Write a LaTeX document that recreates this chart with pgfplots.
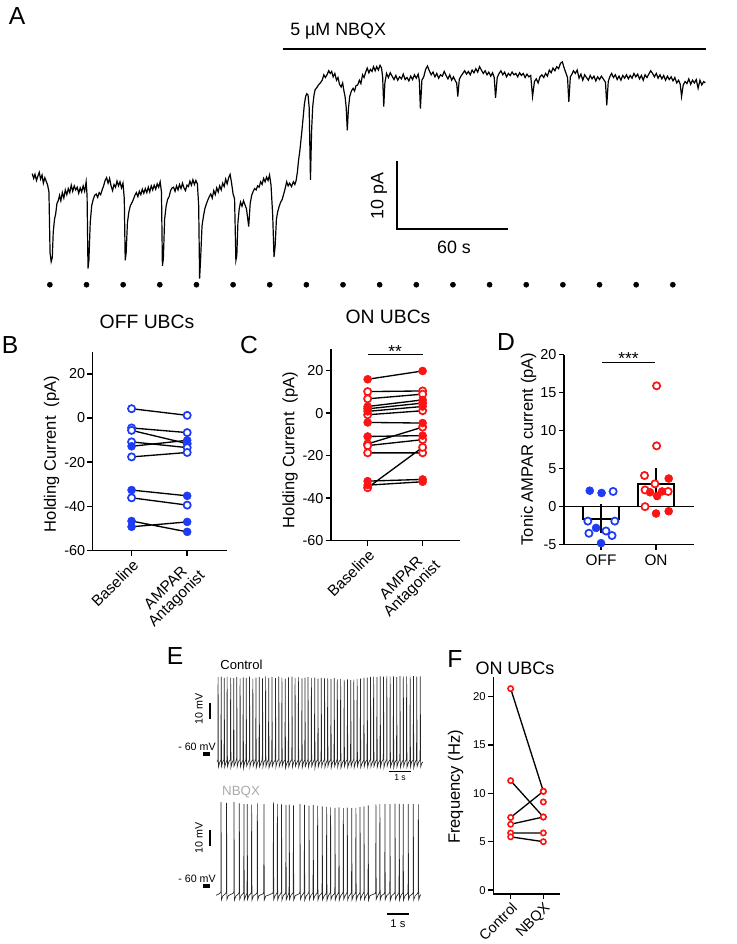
\documentclass[border=0pt]{standalone}
\usepackage{pgfplots}
\pgfplotsset{compat=1.18}
\usepackage{fontspec}
\setmainfont{Liberation Sans}
\definecolor{ubcblue}{RGB}{30,60,245}
\definecolor{ubcred}{RGB}{250,20,20}
\newcommand\fs[1]{\fontsize{#1}{#1}\selectfont}

\pgfplotsset{
  panel/.style={scale only axis, clip=false, anchor=south west,
    axis x line=bottom, axis y line=left,
    axis line style={line width=1.1pt,-},
    tick style={line width=1.1pt,black}, tick align=outside, major tick length=4pt,
    /pgf/number format/assume math mode=true,
    yticklabel style={font=\fs{10.8}, inner sep=1.5pt},
    xticklabel style={font=\fs{11.5}}},
  trace/.style={hide axis, scale only axis, clip=false, anchor=south west},
  pairs/.style={black, line width=1pt, unbounded coords=jump},
  openmk/.style={mark=*, mark size=2.7pt, mark options={draw=#1, fill=white, line width=1.3pt, solid}},
  fillmk/.style={mark=*, mark size=3pt, mark options={draw=#1, fill=#1, line width=0.4pt, solid}},
}

\begin{document}
\begin{tikzpicture}
\path[use as bounding box] (0,0) rectangle (552.75pt,708pt);

% ---------------- A: holding current trace
\begin{axis}[trace, at={(24.15pt,485.3pt)}, width=505pt, height=193pt,
  xmin=0, xmax=362, ymin=-34, ymax=4]
\addplot[black, line width=0.9pt] coordinates {
(0,-15.8) (0.8,-16.5) (1.5,-15.9) (2.3,-16.8) (3,-16.2) (3.8,-15.6) (4.5,-16.6) (5.3,-16.0) (6,-17.2) (6.8,-16.4)
(7.5,-16.9) (8.3,-17.5) (9.0,-18.5) (9.6,-27.5) (10.2,-28.8) (10.8,-28.2) (11.3,-24.5) (12,-22.5) (12.6,-21.8) (13.3,-20.2)
(14,-19.8) (14.7,-19.0) (15.4,-19.8) (16.2,-18.6) (17,-19.4) (17.8,-18.2) (18.6,-18.9) (19.4,-18.0) (20.2,-18.6) (21,-17.5)
(21.8,-18.4) (22.6,-17.6) (23.4,-18.2) (24.2,-17.8) (25,-18.7) (25.8,-17.9) (26.6,-18.5) (27.4,-17.6) (28.2,-18.4) (29,-17.0)
(29.5,-19.0) (30,-29.8) (30.5,-28.5) (31.2,-23.0) (32,-20.5) (32.8,-19.6) (33.6,-19.0) (34.4,-18.8) (35.2,-19.3) (36,-18.6)
(36.8,-18.9) (37.6,-18.2) (38.4,-17.6) (39.2,-16.8) (40,-16.4) (40.8,-17.2) (41.6,-16.5) (42.4,-17.6) (43.2,-18.3) (44,-17.4)
(44.8,-17.8) (45.6,-16.9) (46.4,-17.6) (47.2,-17.0) (48,-17.9) (48.8,-17.2) (49.5,-19.5) (50,-28.6) (50.5,-27.5) (51.2,-23.0)
(52,-21.4) (52.8,-20.5) (53.6,-20.1) (54.4,-19.6) (55.2,-19.0) (56,-18.6) (56.8,-19.2) (57.6,-18.4) (58.4,-18.9) (59.2,-18.1)
(60,-18.7) (60.8,-18.0) (61.6,-18.6) (62.4,-17.8) (63.2,-18.5) (64,-17.6) (64.8,-18.2) (65.6,-17.5) (66.4,-18.1) (67.2,-17.3)
(68,-17.8) (68.8,-17.0) (69.5,-18.5) (70,-29.4) (70.5,-28.4) (71.2,-22.5) (72,-20.6) (72.8,-19.6) (73.6,-19.2) (74.4,-18.3)
(75.2,-17.9) (76,-17.8) (76.8,-18.4) (77.6,-17.6) (78.4,-18.2) (79.2,-17.4) (80,-18.0) (80.8,-17.2) (81.6,-17.9) (82.4,-18.3)
(83.2,-17.5) (84,-17.7) (84.8,-16.9) (85.6,-17.5) (86.4,-16.7) (87.2,-17.4) (88,-16.8) (88.8,-17.3) (89.5,-20.5) (90,-31.3)
(90.6,-28.0) (91.3,-23.5) (92,-22.2) (92.8,-21.0) (93.6,-20.3) (94.4,-19.7) (95.2,-19.2) (96,-18.8) (96.8,-19.4) (97.6,-18.3)
(98.4,-18.9) (99.2,-17.9) (100,-18.5) (100.8,-17.6) (101.6,-18.2) (102.4,-17.2) (103.2,-17.7) (104,-16.6) (104.8,-17.3) (105.6,-16.4)
(106.4,-15.9) (107.2,-17.2) (108,-18.8) (108.8,-19.5) (109.5,-28.6) (110,-27.9) (110.6,-23.0) (111.3,-21.0) (112,-20.0) (112.8,-20.6)
(113.6,-19.8) (114.4,-20.4) (115.2,-21.0) (116.4,-23.6) (117.2,-20.2) (118,-19.0) (118.8,-18.4) (119.6,-18.0) (120.4,-18.2) (121.2,-17.6)
(122,-17.8) (122.8,-17.0) (123.6,-17.4) (124.4,-16.5) (125.2,-17.0) (126,-16.3) (126.8,-16.8) (127.6,-16.0) (128.4,-17.5) (129.3,-22.0)
(130,-28.1) (130.6,-26.5) (131.3,-22.5) (132,-21.4) (132.8,-20.6) (133.6,-20.0) (134.4,-19.6) (135.2,-18.8) (136,-18.0) (136.8,-17.0)
(137.6,-17.6) (138.4,-17.2) (139.4,-17.7) (140.4,-17.0) (141.2,-17.4) (141.9,-16.8) (142.6,-15.5) (143.2,-13.8) (143.9,-12.4) (144.5,-10.8)
(145.1,-9.2) (145.7,-7.4) (146.3,-5.6) (147,-4.4) (147.6,-4.0) (148.3,-4.2) (148.9,-6.0) (149.6,-16.7) (150.2,-9.5) (150.8,-5.9)
(151.5,-4.2) (152.1,-3.4) (153,-3.1) (153.9,-2.7) (154.9,-2.4) (155.9,-2.0) (156.8,-1.2) (157.6,-1.6) (158.5,-1.2) (159.4,-0.6)
(160.2,-1.0) (161,-0.7) (161.8,-1.5) (162.7,-1.0) (163.6,-2.0) (164.4,-1.6) (165.2,-2.6) (166.1,-3.0) (166.9,-2.4) (167.6,-3.6)
(168.2,-4.4) (168.8,-6.0) (169.4,-9.4) (170,-6.2) (170.7,-4.4) (171.6,-3.6) (172.5,-3.2) (173.3,-3.6) (174.1,-2.8) (175,-2.7)
(175.9,-2.0) (176.7,-2.5) (177.6,-1.2) (178.4,-1.6) (179.3,-0.8) (180.1,-0.2) (181,-0.9) (181.8,-0.4) (182.7,-0.7) (183.5,0.0)
(184.4,-0.6) (185.2,0.0) (186.1,-0.5) (187,0.2) (187.8,-0.2) (188.4,-1.5) (189,-5.9) (189.6,-2.4) (190.5,-1.0) (191.5,-1.6)
(192.5,-0.9) (193.5,-1.4) (194.5,-1.9) (195.5,-1.3) (196.5,-2.0) (197.5,-1.5) (198.5,-1.8) (199.5,-1.1) (200.5,-1.9) (201.5,-1.6)
(202.5,-2.1) (203.5,-1.4) (204.5,-1.9) (205.5,-1.2) (206.5,-1.7) (207.5,-1.1) (208.1,-2.0) (208.7,-6.2) (209.5,-2.0) (210.5,-1.5)
(211.5,-0.4) (212.5,0.1) (213.5,-0.6) (214.5,-1.2) (215.5,-0.8) (216.5,-1.5) (217.5,-1.0) (218.5,-1.7) (219.5,-1.2) (220.5,-1.4)
(221.5,-0.7) (222.5,-1.3) (223.5,-1.8) (224.5,-1.2) (225.5,-2.0) (226.5,-1.5) (227.5,-2.1) (228.2,-2.4) (228.8,-4.4) (229.6,-1.9)
(230.5,-1.4) (231.5,-1.0) (232.5,-0.6) (233.5,-1.1) (234.5,-0.7) (235.5,-1.2) (236.5,-0.5) (237.5,-0.9) (238.5,-0.3) (239.5,-0.8)
(240.5,0.0) (241.5,-0.5) (242.5,-1.0) (243.5,-0.6) (244.5,-1.2) (245.5,-0.8) (246.5,-1.4) (247.5,-0.9) (248.4,-1.6) (249.1,-4.6)
(250,-1.6) (251,-1.0) (252,-0.6) (253,-1.2) (254,-0.8) (255,-1.5) (256,-1.0) (257,-1.3) (258,-0.8) (259,-1.2)
(260,-1.0) (261,-1.5) (262,-0.9) (263,-1.3) (264,-1.0) (265,-1.6) (266,-1.1) (267,-1.5) (268,-1.3) (269,-4.4)
(270,-2.2) (271,-1.8) (272,-2.4) (273,-1.5) (274,-1.2) (275,-1.6) (276,-1.0) (277,-1.4) (278,-0.5) (279,-0.9)
(280,-0.2) (281,-0.6) (282,0.0) (283,-0.3) (284,0.5) (285,0.7) (286,-0.2) (287,-1.0) (287.8,-1.6) (288.5,-5.2)
(289.3,-1.5) (290,-1.2) (291,-0.6) (292,-1.0) (293,-0.5) (294,-1.7) (295,-1.1) (296,-2.0) (297,-1.2) (298,-1.6)
(299,-2.0) (300,-1.3) (301,-1.8) (302,-1.4) (303,-2.1) (304,-1.5) (305,-1.9) (306,-1.4) (307,-1.8) (308.2,-2.3)
(308.9,-5.7) (309.7,-2.2) (310.5,-1.5) (311.5,-1.0) (312.5,-1.6) (313.5,-1.2) (314.5,-1.9) (315.5,-1.4) (316.5,-2.0) (317.5,-1.3)
(318.5,-1.7) (319.5,-1.2) (320.5,-1.8) (321.5,-1.3) (322.5,-1.7) (323.5,-1.0) (324.5,-1.5) (325.5,-1.1) (326.5,-1.8) (327.5,-1.3)
(328.5,-2.0) (329.5,-1.2) (330.5,-1.6) (331.5,-1.1) (332.5,-0.6) (333.5,-1.0) (334.5,-1.5) (335.5,-1.0) (336.5,-1.7) (337.5,-1.2)
(338.5,-1.8) (339.5,-1.3) (340.5,-2.0) (341.5,-1.4) (342.5,-1.9) (343.5,-1.5) (344.5,-2.1) (345.5,-1.6) (346.5,-2.4) (347.5,-2.0)
(348.4,-2.6) (349.1,-4.4) (350,-2.7) (351,-2.2) (352,-2.5) (353,-1.8) (354,-2.6) (355,-2.0) (356,-2.4) (357,-1.9)
(358,-3.2) (359,-2.0) (360,-2.7) (361,-2.2) (361.8,-2.4)
};
% stimulus times
\addplot[only marks, mark=*, mark size=1.9pt, black] coordinates {
(9.5,-32.2) (29.2,-32.2) (48.9,-32.2) (68.6,-32.2) (88.3,-32.2) (108,-32.2) (127.7,-32.2) (147.4,-32.2) (167.1,-32.2)
(186.8,-32.2) (206.5,-32.2) (226.2,-32.2) (245.9,-32.2) (265.6,-32.2) (285.3,-32.2) (305,-32.2) (324.7,-32.2) (344.4,-32.2)
};
\draw[line width=2pt] (axis cs:134.8,2.6) -- (axis cs:362,2.6);
\node[anchor=base west, inner sep=0pt, font=\fs{13.4}] at (axis cs:138.6,4.6) {5 µM NBQX};
\draw[line width=1.6pt] (axis cs:196,-14) -- (axis cs:196,-24) -- (axis cs:256,-24);
\node[rotate=90, font=\fs{13.4}] at (axis cs:186.4,-19.1) {10 pA};
\node[anchor=base, inner sep=0pt, font=\fs{13.4}] at (axis cs:226.8,-27.6) {60 s};
\end{axis}

% ---------------- B: OFF UBCs
\begin{axis}[panel, at={(69.5pt,295pt)}, width=100.5pt, height=149.25pt,
  xmin=0.3, xmax=2.71, ymin=-60, ymax=30, ytick={-60,-40,-20,0,20},
  xtick={1,2}, xticklabels={Baseline,{AMPAR\\Antagonist}},
  xticklabel style={rotate=45, anchor=north east, align=center, inner sep=1pt}]
\addplot[pairs, openmk=ubcblue] coordinates {
(1,4.2) (2,1.2) (1,nan) (1,-4.5) (2,-6.6) (1,nan) (1,-5.6) (2,-11.6) (1,nan)
(1,-10.8) (2,-13.4) (1,nan) (1,-17.6) (2,-15.6) (1,nan) (1,-36.1) (2,-39.4)
};
\addplot[pairs, fillmk=ubcblue] coordinates {
(1,-12.8) (2,-10.1) (1,nan) (1,-32.6) (2,-35.2) (1,nan) (1,-46.6) (2,-51.5) (1,nan) (1,-49.2) (2,-47.0)
};
\end{axis}

% ---------------- C: ON UBCs
\begin{axis}[panel, at={(248.25pt,302.5pt)}, width=96.75pt, height=143.55pt,
  xmin=0.333, xmax=2.68, ymin=-60, ymax=30, ytick={-60,-40,-20,0,20},
  xtick={1,2}, xticklabels={Baseline,{AMPAR\\Antagonist}},
  xticklabel style={rotate=45, anchor=north east, align=center, inner sep=1pt}]
\addplot[pairs, openmk=ubcred] coordinates {
(1,10.1) (2,10.4) (1,nan) (1,6.7) (2,8.9) (1,nan) (1,2.0) (2,4.7) (1,nan) (1,-0.8) (2,1.1) (1,nan)
(1,-14.5) (2,-6.6) (1,nan) (1,-15.3) (2,-12.5) (1,nan) (1,-18.7) (2,-18.7) (1,nan) (1,-35.1) (2,-16.1)
};
\addplot[pairs, fillmk=ubcred] coordinates {
(1,15.9) (2,19.8) (1,nan) (1,3.1) (2,6.2) (1,nan) (1,0.8) (2,3.1) (1,nan) (1,-4.4) (2,-4.7) (1,nan)
(1,-11.0) (2,-10.6) (1,nan) (1,-32.0) (2,-31.2) (1,nan) (1,-33.9) (2,-32.3)
};
\draw[line width=1pt] (axis cs:1,27.6) -- (axis cs:2,27.6);
\node[anchor=base, inner sep=0pt, font=\fs{13}] at (axis cs:1.5,26.3) {**};
\end{axis}

% ---------------- D: tonic AMPAR current
\begin{axis}[panel, at={(423pt,299.5pt)}, width=97.5pt, height=142.5pt,
  xmin=0.327, xmax=2.69, ymin=-5, ymax=20, ytick={-5,0,5,10,15,20},
  xtick={1,2}, xticklabels={OFF,ON}]
\addplot[ybar, bar width=0.65, fill=white, draw=black, line width=1.2pt] coordinates {(1,-1.6) (2,2.95)};
\addplot[black, line width=1.2pt] coordinates {(0.327,0) (2.69,0)};
\addplot[only marks, openmk=ubcblue] coordinates {
(1.22,2.0) (0.76,-1.9) (1.25,-1.9) (0.78,-3.5) (1.09,-3.2) (1.2,-3.8)
};
\addplot[only marks, fillmk=ubcblue] coordinates {
(0.795,2.1) (1.01,1.8) (0.91,-2.8) (1.0,-4.8)
};
\addplot[only marks, openmk=ubcred] coordinates {
(2.01,15.9) (2.01,8.0) (1.79,4.1) (1.98,3.0) (1.8,2.2) (2.22,2.0) (1.8,0.0)
};
\addplot[only marks, fillmk=ubcred] coordinates {
(2.23,3.7) (1.89,1.9) (2.02,1.4) (2.11,2.0) (2.0,-0.9) (2.23,-0.6)
};
\addplot[draw=none, mark=none, error bars/.cd, y dir=both, y explicit,
  error bar style={line width=1.2pt, black},
  error mark options={line width=1.2pt, black, mark size=6.2pt}] coordinates {
(1,-1.6) +- (0,0.8)
(2,3.0) +- (0,1.0)
};
\draw[line width=1pt] (axis cs:1.02,19) -- (axis cs:1.98,19);
\node[anchor=base, inner sep=0pt, font=\fs{13}] at (axis cs:1.5,18.7) {***};
\end{axis}

% ---------------- E: current clamp, control
\begin{axis}[trace, at={(162.75pt,129.3pt)}, width=155.1pt, height=75.6pt,
  xmin=0, xmax=9.4, ymin=-71, ymax=-8]
\addplot[black!85, line width=0.5pt] coordinates {
(0,-65.2) (0.04,-63.6) (0.05,-12.0) (0.065,-68.0) (0.12,-65.4)
(0.18,-63.8) (0.19,-11.6) (0.205,-67.6) (0.26,-65.0)
(0.32,-63.4) (0.33,-12.4) (0.345,-68.3) (0.40,-65.6)
(0.45,-63.9) (0.46,-11.8) (0.475,-67.8) (0.54,-64.8)
(0.61,-63.5) (0.62,-12.2) (0.635,-68.4) (0.69,-65.3)
(0.75,-63.7) (0.76,-12.6) (0.775,-67.5) (0.83,-65.7)
(0.89,-63.2) (0.90,-11.9) (0.915,-68.1) (0.97,-64.9)
(1.04,-63.6) (1.05,-12.8) (1.065,-67.9) (1.12,-65.5)
(1.18,-63.9) (1.19,-12.1) (1.205,-68.6) (1.26,-65.1)
(1.32,-63.3) (1.33,-12.5) (1.345,-67.7) (1.40,-65.8)
(1.47,-63.6) (1.48,-11.7) (1.495,-68.2) (1.55,-65.0)
(1.62,-63.8) (1.63,-12.9) (1.645,-67.6) (1.70,-65.4)
(1.76,-63.4) (1.77,-12.3) (1.785,-68.5) (1.85,-65.2)
(1.91,-63.7) (1.92,-12.0) (1.935,-67.9) (2.00,-65.6)
(2.06,-63.5) (2.07,-12.7) (2.085,-68.1) (2.14,-64.8)
(2.20,-63.9) (2.21,-11.5) (2.225,-67.8) (2.28,-65.3)
(2.34,-63.3) (2.35,-12.4) (2.365,-68.4) (2.43,-65.7)
(2.49,-63.6) (2.50,-11.8) (2.515,-67.7) (2.58,-65.1)
(2.65,-63.8) (2.66,-12.6) (2.675,-68.2) (2.73,-64.9)
(2.80,-63.4) (2.81,-11.6) (2.825,-68.0) (2.88,-65.5)
(2.94,-63.7) (2.95,-12.2) (2.965,-67.5) (3.02,-65.2)
(3.09,-63.5) (3.10,-12.9) (3.115,-68.6) (3.17,-65.8)
(3.24,-63.9) (3.25,-12.1) (3.265,-67.9) (3.33,-65.0)
(3.40,-63.3) (3.41,-11.7) (3.425,-68.3) (3.48,-65.4)
(3.54,-63.6) (3.55,-12.5) (3.565,-67.6) (3.62,-65.6)
(3.69,-63.8) (3.70,-12.0) (3.715,-68.1) (3.78,-64.9)
(3.85,-63.4) (3.86,-12.8) (3.875,-68.4) (3.93,-65.3)
(3.99,-63.7) (4.00,-12.3) (4.015,-67.8) (4.07,-65.7)
(4.13,-63.5) (4.14,-11.9) (4.155,-68.2) (4.21,-65.1)
(4.28,-63.9) (4.29,-12.6) (4.305,-67.7) (4.36,-65.5)
(4.43,-63.3) (4.44,-12.2) (4.455,-68.5) (4.51,-64.8)
(4.58,-63.6) (4.59,-12.9) (4.605,-67.9) (4.66,-65.4)
(4.73,-63.8) (4.74,-12.4) (4.755,-68.0) (4.81,-65.2)
(4.88,-63.4) (4.89,-12.7) (4.905,-68.3) (4.96,-65.6)
(5.02,-63.7) (5.03,-12.8) (5.045,-67.6) (5.10,-65.0)
(5.17,-63.5) (5.18,-13.1) (5.195,-68.4) (5.25,-65.3)
(5.32,-63.9) (5.33,-12.6) (5.345,-67.8) (5.40,-65.7)
(5.46,-63.3) (5.47,-13.3) (5.485,-68.1) (5.54,-64.9)
(5.61,-63.6) (5.62,-13.0) (5.635,-68.6) (5.70,-65.5)
(5.77,-63.8) (5.78,-13.6) (5.795,-67.7) (5.85,-65.1)
(5.92,-63.4) (5.93,-13.4) (5.945,-68.2) (6.00,-65.6)
(6.07,-63.7) (6.08,-13.8) (6.095,-67.9) (6.15,-65.2)
(6.21,-63.5) (6.22,-13.5) (6.235,-68.5) (6.29,-65.4)
(6.36,-63.9) (6.37,-13.2) (6.385,-67.6) (6.44,-64.8)
(6.51,-63.3) (6.52,-12.9) (6.535,-68.3) (6.60,-65.7)
(6.67,-63.6) (6.68,-12.5) (6.695,-67.8) (6.75,-65.0)
(6.82,-63.8) (6.83,-12.2) (6.845,-68.4) (6.90,-65.3)
(6.97,-63.4) (6.98,-11.8) (6.995,-68.0) (7.05,-65.6)
(7.11,-63.7) (7.12,-11.6) (7.135,-67.7) (7.20,-65.1)
(7.26,-63.5) (7.27,-11.9) (7.285,-68.2) (7.34,-65.5)
(7.41,-63.9) (7.42,-11.5) (7.435,-67.9) (7.49,-64.9)
(7.56,-63.3) (7.57,-11.7) (7.585,-68.6) (7.64,-65.4)
(7.71,-63.6) (7.72,-11.4) (7.735,-67.6) (7.79,-65.2)
(7.86,-63.8) (7.87,-11.6) (7.885,-68.1) (7.94,-65.7)
(8.01,-63.4) (8.02,-11.5) (8.035,-68.3) (8.09,-65.0)
(8.16,-63.7) (8.17,-11.8) (8.185,-67.8) (8.24,-65.3)
(8.31,-63.5) (8.32,-11.4) (8.335,-68.4) (8.39,-65.6)
(8.46,-63.9) (8.47,-11.6) (8.485,-67.7) (8.54,-65.1)
(8.61,-63.3) (8.62,-11.5) (8.635,-68.2) (8.70,-65.5)
(8.77,-63.6) (8.78,-11.7) (8.795,-68.0) (8.85,-64.8)
(8.92,-63.8) (8.93,-11.4) (8.945,-68.5) (9.00,-65.4)
(9.07,-63.4) (9.08,-11.6) (9.095,-67.9) (9.16,-65.2)
(9.23,-63.7) (9.24,-11.5) (9.255,-68.1) (9.31,-65.6) (9.36,-65.0)
};
\draw[line width=1.5pt] (axis cs:-0.32,-28) -- (axis cs:-0.32,-38);
\draw[line width=2.5pt] (axis cs:-0.64,-60) -- (axis cs:-0.32,-60);
\draw[line width=1.2pt] (axis cs:7.82,-71) -- (axis cs:8.82,-71);
\node[rotate=90, font=\fs{8}] at (axis cs:-0.82,-31.9) {10 mV};
\node[font=\fs{8}] at (axis cs:-0.91,-55.6) {- 60 mV};
\node[font=\fs{6.5}] at (axis cs:8.32,-74.6) {1 s};
\node[anchor=west, inner sep=0pt, font=\fs{9.8}] at (axis cs:0.14,-4.4) {Control};
\end{axis}

% ---------------- E: current clamp, NBQX
\begin{axis}[trace, at={(162pt,30.3pt)}, width=153.75pt, height=79.2pt,
  xmin=0, xmax=9.32, ymin=-71, ymax=-5]
\addplot[black!85, line width=0.5pt] coordinates {
(0,-65.8) (0.1,-65.2) (0.2,-64.3) (0.222,-63.4) (0.23,-7.5) (0.245,-68.7) (0.31,-66.2) (0.45,-64.6)
(0.472,-63.6) (0.48,-8.0) (0.495,-68.5) (0.56,-66.0) (0.79,-64.5)
(0.812,-63.5) (0.82,-7.6) (0.835,-68.9) (0.90,-66.3) (1.03,-64.8)
(1.052,-63.7) (1.06,-8.3) (1.075,-68.4) (1.14,-65.9) (1.24,-64.7)
(1.262,-63.6) (1.27,-8.6) (1.285,-68.6) (1.35,-66.1) (1.40,-64.9)
(1.412,-63.8) (1.42,-8.9) (1.435,-68.3) (1.50,-65.8) (1.59,-64.6)
(1.612,-63.5) (1.62,-9.2) (1.635,-68.8) (1.70,-66.2) (1.85,-64.7)
(1.872,-63.7) (1.88,-8.4) (1.895,-68.5) (1.96,-66.0) (2.15,-64.8)
(2.172,-63.6) (2.18,-8.8) (2.195,-68.7) (2.26,-66.3) (2.40,-65.6) (2.58,-64.5)
(2.602,-63.5) (2.61,-7.8) (2.625,-68.4) (2.69,-65.9) (2.76,-64.8)
(2.782,-63.7) (2.79,-8.7) (2.805,-68.6) (2.87,-66.1) (2.95,-64.6)
(2.972,-63.6) (2.98,-9.0) (2.995,-68.9) (3.06,-66.0) (3.15,-64.7)
(3.172,-63.5) (3.18,-9.4) (3.195,-68.5) (3.26,-66.2) (3.30,-64.9)
(3.322,-63.8) (3.33,-9.1) (3.345,-68.3) (3.41,-65.8) (3.49,-64.6)
(3.512,-63.6) (3.52,-9.6) (3.535,-68.7) (3.60,-66.1) (3.79,-64.8)
(3.812,-63.7) (3.82,-8.9) (3.835,-68.4) (3.90,-66.0) (3.99,-64.5)
(4.012,-63.5) (4.02,-9.3) (4.035,-68.8) (4.10,-66.2) (4.20,-64.7)
(4.222,-63.6) (4.23,-9.7) (4.245,-68.6) (4.31,-65.9) (4.39,-64.8)
(4.412,-63.7) (4.42,-9.5) (4.435,-68.3) (4.50,-66.1) (4.59,-64.6)
(4.612,-63.5) (4.62,-9.9) (4.635,-68.7) (4.70,-66.0) (4.80,-64.7)
(4.822,-63.6) (4.83,-10.2) (4.845,-68.5) (4.91,-66.3) (5.00,-64.9)
(5.022,-63.8) (5.03,-10.6) (5.045,-68.9) (5.11,-66.0) (5.18,-64.6)
(5.202,-63.5) (5.21,-10.8) (5.225,-68.4) (5.29,-66.2) (5.38,-64.8)
(5.402,-63.7) (5.41,-11.1) (5.425,-68.6) (5.49,-65.9) (5.56,-64.7)
(5.582,-63.6) (5.59,-10.9) (5.605,-68.8) (5.67,-66.1) (5.76,-64.5)
(5.782,-63.5) (5.79,-11.3) (5.805,-68.3) (5.87,-66.0) (5.94,-64.8)
(5.962,-63.7) (5.97,-11.0) (5.985,-68.7) (6.05,-66.2) (6.14,-64.6)
(6.162,-63.6) (6.17,-11.4) (6.185,-68.5) (6.25,-65.8) (6.33,-64.7)
(6.352,-63.5) (6.36,-11.2) (6.375,-68.9) (6.44,-66.1) (6.52,-64.9)
(6.542,-63.8) (6.55,-10.7) (6.565,-68.4) (6.63,-66.0) (6.70,-64.6)
(6.722,-63.6) (6.73,-10.3) (6.745,-68.6) (6.81,-66.3) (6.89,-64.8)
(6.912,-63.7) (6.92,-9.6) (6.935,-68.8) (7.00,-66.0) (7.24,-64.7)
(7.262,-63.5) (7.27,-9.0) (7.285,-68.3) (7.35,-66.2) (7.42,-64.6)
(7.442,-63.6) (7.45,-8.8) (7.465,-68.7) (7.53,-65.9) (7.65,-64.8)
(7.672,-63.7) (7.68,-8.6) (7.695,-68.5) (7.76,-66.1) (7.88,-64.5)
(7.902,-63.5) (7.91,-8.9) (7.925,-68.9) (7.99,-66.0) (8.11,-64.7)
(8.132,-63.6) (8.14,-8.5) (8.155,-68.4) (8.22,-66.2) (8.30,-64.8)
(8.322,-63.8) (8.33,-8.7) (8.345,-68.6) (8.41,-65.8) (8.48,-64.6)
(8.502,-63.6) (8.51,-8.9) (8.525,-68.8) (8.59,-66.1) (8.71,-64.7)
(8.732,-63.5) (8.74,-8.6) (8.755,-68.3) (8.82,-66.0) (8.94,-64.9)
(8.962,-63.7) (8.97,-8.8) (8.985,-68.7) (9.05,-66.2) (9.17,-64.6)
(9.192,-63.6) (9.20,-9.0) (9.215,-68.5) (9.28,-66.0) (9.32,-65.4)
};
\draw[line width=1.5pt] (axis cs:-0.27,-25) -- (axis cs:-0.27,-35);
\draw[line width=2.5pt] (axis cs:-0.59,-60) -- (axis cs:-0.27,-60);
\draw[line width=1.2pt] (axis cs:7.77,-77.5) -- (axis cs:8.77,-77.5);
\node[rotate=90, font=\fs{8}] at (axis cs:-0.77,-30) {10 mV};
\node[font=\fs{8}] at (axis cs:-0.86,-55.3) {- 60 mV};
\node[font=\fs{8.4}] at (axis cs:8.27,-83.75) {1 s};
\node[anchor=west, inner sep=0pt, font=\fs{10}, text={rgb,255:red,170;green,170;blue,170}] at (axis cs:0.27,-1.25) {NBQX};
\end{axis}

% ---------------- F: firing frequency
\begin{axis}[panel, at={(370pt,37.5pt)}, width=50pt, height=162.75pt,
  xmin=0.47, xmax=2.51, ymin=-0.4, ymax=22, ytick={0,5,10,15,20},
  yticklabel style={font=\fs{8.5}},
  xtick={1,2}, xticklabels={Control,NBQX},
  xticklabel style={rotate=45, anchor=north east, inner sep=1pt, font=\fs{10.8}}]
\addplot[pairs, mark=*, mark size=2pt, mark options={draw=ubcred, fill=white, line width=1.2pt, solid}] coordinates {
(1,20.8) (2,10.2) (1,nan) (1,11.3) (2,7.55) (1,nan) (1,7.5) (2,10.2) (1,nan)
(1,6.8) (2,7.55) (1,nan) (1,5.9) (2,5.9) (1,nan) (1,5.5) (2,5.0) (1,nan) (2,9.1)
};
\end{axis}

% ---------------- panel letters, titles, axis labels
\begin{scope}[x=0.75pt, y=0.75pt]
\node[font=\fs{18.5}] at (17,928) {A};
\node[font=\fs{18.5}] at (10,599) {B};
\node[font=\fs{18.5}] at (249,599) {C};
\node[font=\fs{18.5}] at (506,602) {D};
\node[font=\fs{18.5}] at (175,288) {E};
\node[font=\fs{18.5}] at (455,285) {F};
\node[font=\fs{14.5}] at (147,622) {OFF UBCs};
\node[font=\fs{14.5}] at (388,627) {ON UBCs};
\node[font=\fs{13.5}] at (515,276) {ON UBCs};
\node[rotate=90, font=\fs{12.4}] at (51.5,490) {Holding Current~ (pA)};
\node[rotate=90, font=\fs{12.4}] at (290,494) {Holding Current~ (pA)};
\node[rotate=90, font=\fs{12.4}] at (528.5,495) {Tonic AMPAR current (pA)};
\node[rotate=90, font=\fs{12.4}] at (455.7,157) {Frequency (Hz)};
\end{scope}
\end{tikzpicture}
\end{document}
